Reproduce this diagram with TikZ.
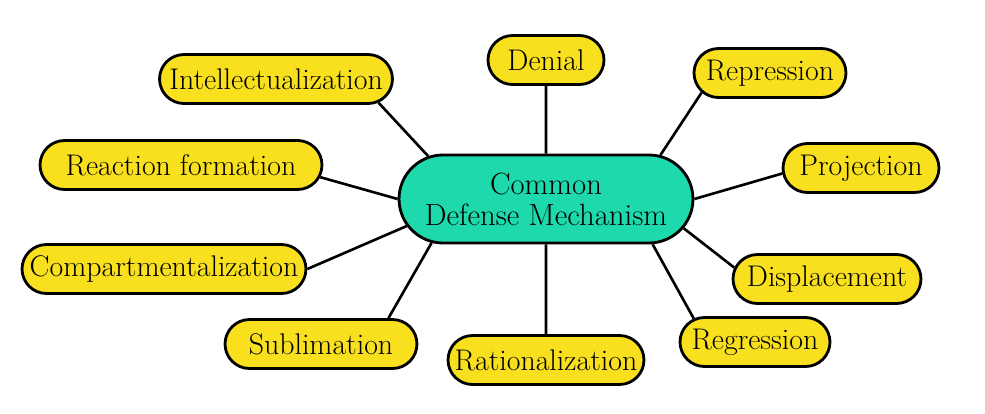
\documentclass[tikz,border=0pt]{standalone}
\usetikzlibrary{shapes.misc,positioning}
\definecolor{amarillo}{RGB}{248,224,30}
\definecolor{turquesa}{RGB}{29,217,172}

\begin{document}
\begin{tikzpicture}[x=0.02cm,y=-0.02cm,
  hoja/.style={rounded rectangle, draw=black, line width=1.6pt, fill=amarillo,
    minimum height=0.98cm, inner xsep=-0.6cm, font=\fontsize{17}{20}\selectfont},
  nucleo/.style={rounded rectangle, draw=black, line width=1.6pt, fill=turquesa,
    minimum width=4.68cm, minimum height=1.76cm, inner xsep=-0.6cm, align=center,
    font=\fontsize{17.5}{17.6}\selectfont},
  enlace/.style={line width=1.5pt}]

\useasboundingbox (0,0) rectangle (985,413);

% Nodo central
\node[nucleo] (core) at (546,199) {Common\\Defense Mechanism};

% Mecanismos alrededor
\foreach \nom/\x/\y/\w/\txt in {
    denial/546/60/1.12/Denial,
    repression/770/73/1.84/Repression,
    projection/861/168/1.92/Projection,
    displacement/827/279/2.56/Displacement,
    regression/755/342/1.8/Regression,
    rationalization/546/360/2.72/Rationalization,
    sublimation/321/344/2.64/Sublimation,
    compart/164/269/4.48/Compartmentalization,
    reaction/181/165/4.44/Reaction formation,
    intellect/276/79/3.46/Intellectualization} {
    \node[hoja, minimum width=\w cm] (\nom) at (\x,\y) {\txt};
}

% Lineas del centro a cada mecanismo
\foreach \nom/\a/\b in {
    denial/90/270, repression/21/196, projection/0/184,
    displacement/348/173, regression/337/159, rationalization/270/90,
    sublimation/201/21, compart/191/0, reaction/180/355, intellect/160/347} {
    \draw[enlace] (core.\a) -- (\nom.\b);
}

\end{tikzpicture}
\end{document}
